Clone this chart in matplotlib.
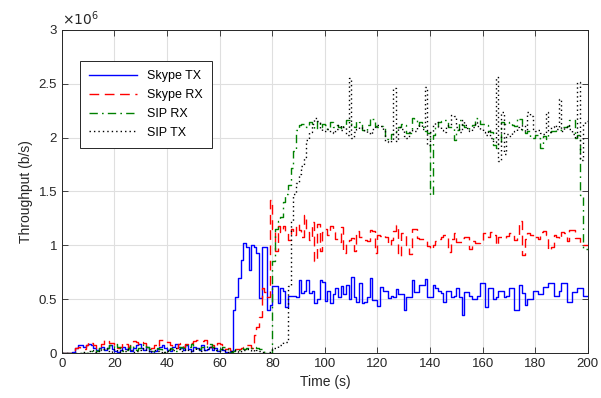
import numpy as np
import matplotlib
matplotlib.use('Agg')
import matplotlib.pyplot as plt
from matplotlib.ticker import FuncFormatter, MultipleLocator

# throughput per 1 s bin, in units of 1e6 b/s
skype_tx = [
    0.00, 0.00, 0.00, 0.00, 0.01, 0.05, 0.07, 0.07, 0.06, 0.07,
    0.08, 0.07, 0.05, 0.03, 0.05, 0.06, 0.03, 0.05, 0.07, 0.04,
    0.02, 0.01, 0.03, 0.06, 0.04, 0.06, 0.02, 0.05, 0.07, 0.08,
    0.05, 0.03, 0.06, 0.02, 0.00, 0.02, 0.04, 0.06, 0.07, 0.05,
    0.03, 0.02, 0.06, 0.08, 0.06, 0.05, 0.03, 0.07, 0.04, 0.02,
    0.06, 0.05, 0.03, 0.07, 0.03, 0.04, 0.06, 0.03, 0.05, 0.02,
    0.04, 0.03, 0.01, 0.00, 0.02, 0.40, 0.52, 0.70, 0.86, 1.02,
    0.98, 0.77, 1.00, 0.98, 0.93, 0.51, 0.98, 0.98, 0.40, 0.45,
    0.62, 0.62, 0.46, 0.60, 0.58, 0.43, 0.53, 0.53, 0.53, 0.52,
    0.68, 0.56, 0.58, 0.68, 0.56, 0.58, 0.46, 0.50, 0.68, 0.66,
    0.48, 0.58, 0.46, 0.55, 0.60, 0.52, 0.62, 0.55, 0.63, 0.50,
    0.71, 0.52, 0.47, 0.65, 0.46, 0.47, 0.52, 0.70, 0.49, 0.49,
    0.44, 0.61, 0.58, 0.58, 0.51, 0.53, 0.52, 0.59, 0.55, 0.55,
    0.40, 0.52, 0.52, 0.68, 0.57, 0.57, 0.63, 0.63, 0.69, 0.52,
    0.52, 0.63, 0.60, 0.58, 0.56, 0.47, 0.58, 0.58, 0.52, 0.53,
    0.60, 0.52, 0.35, 0.57, 0.57, 0.53, 0.50, 0.50, 0.53, 0.65,
    0.65, 0.43, 0.60, 0.60, 0.50, 0.52, 0.58, 0.58, 0.52, 0.53,
    0.60, 0.60, 0.40, 0.40, 0.63, 0.56, 0.45, 0.50, 0.50, 0.58,
    0.58, 0.55, 0.55, 0.61, 0.61, 0.65, 0.65, 0.53, 0.53, 0.58,
    0.65, 0.65, 0.47, 0.47, 0.57, 0.57, 0.60, 0.60, 0.53, 0.53,
]

skype_rx = [
    0.00, 0.00, 0.00, 0.00, 0.01, 0.05, 0.06, 0.05, 0.04, 0.07,
    0.10, 0.09, 0.07, 0.05, 0.06, 0.08, 0.12, 0.11, 0.09, 0.09,
    0.07, 0.05, 0.06, 0.09, 0.08, 0.06, 0.07, 0.11, 0.10, 0.08,
    0.10, 0.09, 0.06, 0.04, 0.05, 0.07, 0.06, 0.12, 0.12, 0.11,
    0.10, 0.07, 0.06, 0.05, 0.08, 0.09, 0.06, 0.08, 0.07, 0.09,
    0.11, 0.12, 0.12, 0.11, 0.12, 0.08, 0.06, 0.07, 0.05, 0.09,
    0.08, 0.06, 0.04, 0.05, 0.03, 0.04, 0.04, 0.04, 0.05, 0.06,
    0.07, 0.07, 0.05, 0.17, 0.24, 0.33, 0.60, 0.57, 0.52, 1.42,
    1.15, 0.95, 1.18, 1.12, 1.18, 1.12, 1.05, 1.15, 1.10, 1.20,
    1.14, 1.08, 1.28, 1.12, 1.05, 1.22, 0.85, 1.20, 0.95, 1.12,
    1.15, 1.10, 1.18, 1.12, 1.06, 1.03, 1.17, 0.93, 1.02, 1.05,
    1.07, 0.95, 1.13, 1.08, 1.05, 1.05, 1.04, 1.14, 1.13, 0.93,
    1.10, 1.09, 1.10, 1.08, 1.00, 1.05, 1.13, 1.19, 0.90, 1.11,
    1.10, 1.00, 0.92, 1.15, 1.15, 1.07, 1.06, 1.06, 1.05, 0.99,
    0.97, 1.00, 1.04, 1.06, 1.08, 1.10, 1.10, 0.94, 1.06, 1.11,
    1.03, 1.03, 1.07, 1.08, 1.08, 0.97, 1.04, 1.02, 1.02, 1.03,
    1.11, 1.11, 1.08, 1.12, 1.10, 1.00, 1.08, 1.08, 1.07, 1.09,
    1.11, 1.10, 1.05, 1.09, 1.23, 0.91, 1.06, 1.11, 1.10, 1.07,
    1.08, 1.06, 1.12, 1.13, 1.10, 0.96, 0.98, 1.10, 1.08, 1.06,
    1.12, 1.11, 1.04, 1.14, 1.14, 1.07, 1.07, 1.02, 1.00, 1.00,
]

sip_rx = [
    0.00, 0.00, 0.00, 0.00, 0.00, 0.00, 0.00, 0.00, 0.00, 0.00,
    0.01, 0.02, 0.03, 0.02, 0.05, 0.04, 0.03, 0.05, 0.07, 0.06,
    0.08, 0.06, 0.04, 0.02, 0.03, 0.05, 0.07, 0.06, 0.03, 0.05,
    0.07, 0.08, 0.06, 0.04, 0.02, 0.03, 0.05, 0.04, 0.02, 0.01,
    0.03, 0.05, 0.04, 0.02, 0.04, 0.06, 0.05, 0.07, 0.06, 0.08,
    0.05, 0.03, 0.04, 0.06, 0.05, 0.07, 0.08, 0.06, 0.03, 0.02,
    0.04, 0.06, 0.05, 0.03, 0.01, 0.02, 0.04, 0.03, 0.05, 0.04,
    0.05, 0.06, 0.05, 0.06, 0.05, 0.04, 0.03, 0.01, 0.00, 0.00,
    0.85, 1.15, 1.23, 1.26, 1.40, 1.48, 1.56, 1.72, 1.88, 2.07,
    2.12, 2.13, 2.12, 2.10, 2.14, 2.12, 2.08, 2.15, 2.10, 2.13,
    2.12, 2.08, 2.14, 2.10, 2.12, 2.10, 2.08, 2.12, 2.16, 2.16,
    2.13, 2.10, 2.15, 2.14, 2.07, 2.06, 2.12, 2.18, 2.17, 2.11,
    2.10, 2.11, 2.10, 1.99, 1.98, 2.03, 2.05, 2.06, 2.10, 2.13,
    2.12, 2.04, 2.04, 2.18, 2.17, 2.12, 2.14, 2.10, 2.06, 2.04,
    1.47, 2.02, 2.10, 2.14, 2.15, 2.16, 2.16, 2.10, 2.10, 1.98,
    2.07, 2.16, 2.12, 2.10, 2.08, 2.10, 2.12, 2.18, 2.17, 2.13,
    2.13, 2.12, 2.06, 2.05, 1.93, 1.90, 1.95, 2.14, 2.13, 2.13,
    2.14, 2.12, 2.11, 2.18, 2.17, 2.07, 2.04, 2.06, 2.00, 2.00,
    2.02, 2.00, 1.90, 2.01, 1.99, 2.05, 2.06, 2.06, 2.07, 2.07,
    2.10, 2.10, 2.11, 2.16, 2.16, 2.00, 2.02, 1.47, 0.97, 0.97,
]

sip_tx = [
    0.00, 0.00, 0.00, 0.00, 0.00, 0.00, 0.00, 0.00, 0.01, 0.00,
    0.02, 0.03, 0.01, 0.02, 0.04, 0.03, 0.05, 0.02, 0.01, 0.03,
    0.04, 0.02, 0.01, 0.03, 0.02, 0.04, 0.03, 0.01, 0.02, 0.03,
    0.05, 0.04, 0.02, 0.01, 0.02, 0.03, 0.02, 0.01, 0.00, 0.01,
    0.02, 0.04, 0.03, 0.05, 0.04, 0.02, 0.03, 0.04, 0.02, 0.01,
    0.03, 0.05, 0.04, 0.02, 0.03, 0.04, 0.06, 0.05, 0.03, 0.02,
    0.03, 0.04, 0.02, 0.01, 0.02, 0.03, 0.02, 0.01, 0.02, 0.03,
    0.04, 0.03, 0.02, 0.04, 0.03, 0.02, 0.01, 0.00, 0.01, 0.02,
    0.05, 0.05, 0.07, 0.07, 0.10, 0.10, 0.62, 1.23, 1.48, 1.58,
    1.66, 1.74, 1.82, 1.98, 2.05, 2.13, 2.18, 2.15, 2.08, 2.06,
    2.06, 2.08, 2.05, 2.04, 2.08, 2.12, 2.07, 2.10, 2.02, 2.55,
    2.00, 2.05, 2.08, 2.10, 2.09, 2.06, 2.04, 2.03, 2.08, 2.10,
    2.12, 2.11, 2.06, 1.97, 1.96, 1.98, 2.46, 1.97, 2.10, 2.08,
    2.01, 2.00, 2.05, 2.07, 2.06, 2.10, 2.12, 2.08, 2.47, 1.93,
    2.05, 2.12, 2.14, 2.10, 2.07, 2.05, 2.11, 2.12, 2.21, 2.20,
    2.10, 2.05, 2.16, 2.12, 2.09, 2.06, 2.10, 2.14, 2.11, 2.08,
    2.05, 2.02, 2.07, 2.00, 1.96, 2.56, 1.78, 2.24, 1.85, 2.03,
    2.01, 2.05, 2.06, 2.10, 2.08, 2.12, 2.06, 2.24, 2.20, 2.08,
    2.06, 2.07, 2.04, 2.03, 2.24, 2.05, 2.10, 2.12, 2.08, 2.36,
    2.06, 2.10, 2.12, 2.08, 2.03, 2.00, 2.52, 1.79, 2.13, 2.15,
]

labels = ['Skype TX', 'Skype RX', 'SIP RX', 'SIP TX']
colors = ['#0000ff', '#ff0000', '#008000', '#000000']
styles = ['-', (0, (7, 4)), (0, (6, 3, 1.2, 3)), (0, (1, 2.2))]

plt.rcParams['font.family'] = ['Liberation Sans', 'DejaVu Sans']
plt.rcParams['font.size'] = 9

fig = plt.figure(figsize=(6.01, 3.98), dpi=100)
ax = fig.add_axes([0.103, 0.113, 0.875, 0.812])

for serie, lab, cor, ls in zip([skype_tx, skype_rx, sip_rx, sip_tx], labels, colors, styles):
    y = np.array(serie) * 1e6
    t = np.arange(len(y) + 1)
    ax.step(t, np.append(y, y[-1]), where='post', color=cor, linestyle=ls,
            linewidth=1.0, label=lab)

ax.set_xlim(0, 200)
ax.set_ylim(0, 3e6)
ax.xaxis.set_major_locator(MultipleLocator(20))
ax.yaxis.set_major_locator(MultipleLocator(0.5e6))
ax.yaxis.set_major_formatter(FuncFormatter(lambda v, p: f'{v / 1e6:g}'))
ax.text(0.0, 1.005, r'$\times10^{6}$', transform=ax.transAxes, ha='left', va='bottom',
        fontsize=10, color='#262626')

ax.set_xlabel('Time (s)', fontsize=10, color='#262626')
ax.set_ylabel('Throughput (b/s)', fontsize=10, color='#262626')

ax.grid(True, color='#dfdfdf', linewidth=0.8)
ax.set_axisbelow(True)
ax.tick_params(direction='in', top=True, right=True, length=4, width=0.6,
               colors='#262626', labelsize=9.5)
for s in ax.spines.values():
    s.set_color('#262626')
    s.set_linewidth(0.7)

leg = ax.legend(loc='upper left', bbox_to_anchor=(0.034, 0.904), borderaxespad=0,
                fontsize=9, handlelength=3.8, labelspacing=0.55, borderpad=0.75,
                fancybox=False, framealpha=1, edgecolor='#262626')
leg.get_frame().set_linewidth(0.7)

fig.savefig('out.png', dpi=100)
plt.close(fig)
